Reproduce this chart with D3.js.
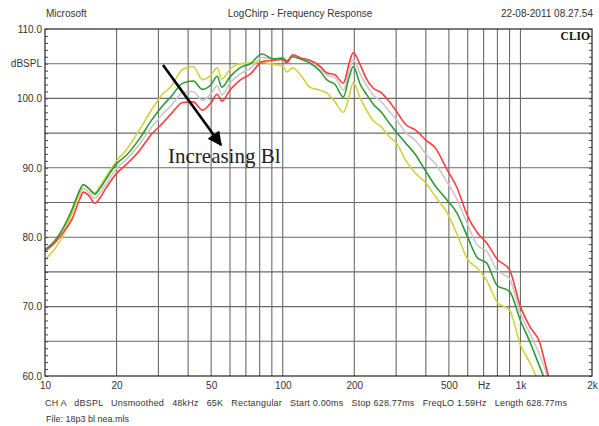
<!DOCTYPE html>
<html>
<head>
<meta charset="utf-8">
<script src="https://cdn.jsdelivr.net/npm/d3@7"></script>
<style>
  body { margin: 0; background: #fff; }
  svg { display: block; }
  .hdr, .tick text, .info { font-family: Arial, "Liberation Sans", sans-serif; fill: #333; }
</style>
</head>
<body>
<div id="chart"></div>
<script>
// frequencies (Hz) shared by every trace
const freqs = [10, 11, 12, 13, 14, 14.5, 15.3, 16.2, 17, 18, 20, 22, 25, 28, 31, 34, 38, 42, 46, 50,
  53, 55.5, 60, 66, 73, 82, 91, 100, 104, 110, 120, 130, 143, 153, 166, 180, 190, 198, 212, 226,
  240, 260, 280, 300, 330, 360, 400, 440, 490, 540, 600, 660, 720, 800, 900, 1000, 1100, 1200, 1300, 1400];

// dBSPL per trace, lowest Bl (yellow) to highest Bl (red)
const yellow = [76.8, 78.3, 80.5, 83.5, 86.5, 87.5, 87.0, 86.4, 87.3, 88.6, 91.0, 92.6, 95.5, 98.3, 100.5, 101.8, 104.2, 104.6, 102.7, 103.4,
  104.4, 102.8, 104.2, 105.0, 105.1, 105.2, 104.9, 104.7, 103.8, 104.4, 103.2, 101.6, 101.2, 100.8, 99.5, 98.0, 100.2, 102.3, 100.0, 98.2,
  96.8, 95.9, 94.5, 93.6, 91.0, 89.3, 87.8, 85.8, 83.6, 80.5, 76.8, 75.5, 73.8, 70.6, 69.5, 64.5, 61.8, 59.0, 57.0, 55.0];
const green = [78.2, 79.5, 81.5, 84.0, 86.8, 87.6, 87.0, 86.2, 87.0, 88.3, 90.6, 91.8, 94.2, 96.8, 98.8, 100.3, 102.2, 102.5, 101.3, 102.0,
  103.2, 101.6, 103.1, 104.4, 105.0, 106.4, 105.7, 105.8, 105.4, 106.0, 105.6, 105.1, 104.0, 102.7, 102.0, 100.2, 103.0, 104.6, 102.0, 100.5,
  99.2, 98.0, 96.5, 95.2, 93.5, 92.0, 89.5, 87.3, 85.4, 83.5, 80.0, 77.0, 76.3, 73.0, 72.2, 68.0, 64.8, 61.5, 58.5, 56.0];
const gray = [78.0, 79.3, 81.2, 83.5, 86.2, 87.0, 86.5, 85.6, 86.3, 87.6, 89.9, 91.2, 93.4, 95.8, 97.6, 99.0, 100.8, 101.0, 99.7, 100.7,
  101.8, 100.5, 102.2, 103.5, 104.3, 105.9, 105.7, 105.8, 105.3, 106.2, 105.8, 105.4, 104.5, 103.4, 103.0, 101.2, 104.0, 105.6, 103.5, 101.8,
  100.5, 99.5, 98.2, 97.0, 95.0, 94.0, 92.0, 90.5, 88.0, 85.5, 81.8, 78.8, 78.0, 75.2, 74.0, 69.0, 66.0, 63.2, 60.0, 57.0];
const red = [78.0, 79.2, 80.8, 82.6, 85.5, 86.5, 86.0, 84.9, 85.6, 87.0, 89.2, 90.5, 92.5, 94.8, 96.3, 97.8, 99.4, 99.5, 98.3, 99.4,
  100.6, 99.6, 101.2, 102.6, 103.5, 105.3, 105.5, 105.6, 105.1, 106.3, 105.8, 105.5, 104.7, 103.7, 103.4, 102.2, 105.0, 106.6, 104.8, 102.7,
  101.5, 100.8, 99.6, 98.2, 96.2, 95.5, 94.0, 92.8, 89.8, 87.2, 83.0, 80.6, 79.2, 76.8, 75.3, 70.0, 67.0, 65.0, 60.5, 57.0];

const xTicks = [10, 20, 50, 100, 200, 500, 700, 1000, 2000];
const xTickLabels = ['10', '20', '50', '100', '200', '500', 'Hz', '1k', '2k'];
const yTicks = [60, 70, 80, 90, 100, 105, 110];
const yTickLabels = ['60.0', '70.0', '80.0', '90.0', '100.0', 'dBSPL', '110.0'];

const W = 599, H = 426;
const margin = { top: 29, right: 7, bottom: 50, left: 45 };
const width = W - margin.left - margin.right;
const height = H - margin.top - margin.bottom;

const svg = d3.select('#chart').append('svg').attr('width', W).attr('height', H);

const x = d3.scaleLog().domain([10, 2000]).range([0, width]);
const y = d3.scaleLinear().domain([60, 110]).range([height, 0]);

const g = svg.append('g').attr('transform', `translate(${margin.left},${margin.top})`);

// vertical grid: every 1-2-3..9 step per decade
const gridX = [];
[10, 100, 1000].forEach(d => { for (let k = 1; k <= 9; k++) if (d * k <= 2000) gridX.push(d * k); });
g.append('g').selectAll('line').data(gridX.filter(v => v > 10 && v < 2000)).join('line')
  .attr('x1', d => x(d)).attr('x2', d => x(d)).attr('y1', 0).attr('y2', height)
  .attr('stroke', '#6a6a6a').attr('stroke-width', 1.1);

g.append('g').selectAll('line').data(d3.range(65, 110, 5)).join('line')
  .attr('x1', 0).attr('x2', width).attr('y1', d => y(d)).attr('y2', d => y(d))
  .attr('stroke', '#6a6a6a').attr('stroke-width', 1.1);

// traces
const clip = svg.append('clipPath').attr('id', 'plotclip');
clip.append('rect').attr('width', width).attr('height', height);

const line = d3.line().x((d, i) => x(freqs[i])).y(d => y(d)).curve(d3.curveMonotoneX);
const traces = [
  { vals: gray, color: '#c9c9c9' },
  { vals: yellow, color: '#d2d23c' },
  { vals: green, color: '#2f9a34' },
  { vals: red, color: '#ff3c3c' }
];
g.append('g').attr('clip-path', 'url(#plotclip)').selectAll('path').data(traces).join('path')
  .attr('d', d => line(d.vals))
  .attr('fill', 'none').attr('stroke', d => d.color).attr('stroke-width', 1.6);

// frame
g.append('rect').attr('width', width).attr('height', height)
  .attr('fill', 'none').attr('stroke', '#222').attr('stroke-width', 1.2);

// minor dB ticks on left and right edges
const minor = d3.range(60, 111, 1);
g.append('g').call(d3.axisLeft(y).tickValues(minor).tickSize(-3).tickFormat(''))
  .call(a => a.select('.domain').remove())
  .selectAll('line').attr('stroke', '#444');
g.append('g').attr('transform', `translate(${width},0)`)
  .call(d3.axisRight(y).tickValues(minor).tickSize(-3).tickFormat(''))
  .call(a => a.select('.domain').remove())
  .selectAll('line').attr('stroke', '#444');

// axis labels
g.append('g').call(d3.axisLeft(y).tickValues(yTicks).tickSize(0).tickPadding(3)
    .tickFormat(d => yTickLabels[yTicks.indexOf(d)]))
  .call(a => a.select('.domain').remove())
  .selectAll('text').attr('font-size', 10);

g.append('g').attr('transform', `translate(0,${height})`)
  .call(d3.axisBottom(x).tickValues(xTicks).tickSize(0).tickPadding(6)
    .tickFormat(d => xTickLabels[xTicks.indexOf(d)]))
  .call(a => a.select('.domain').remove())
  .selectAll('text').attr('font-size', 10);

// header
svg.append('text').attr('class', 'hdr').attr('x', 46).attr('y', 17).attr('font-size', 10).text('Microsoft');
svg.append('text').attr('class', 'hdr').attr('x', 300).attr('y', 17).attr('font-size', 10)
  .attr('text-anchor', 'middle').text('LogChirp - Frequency Response');
svg.append('text').attr('class', 'hdr').attr('x', 593).attr('y', 17).attr('font-size', 10)
  .attr('text-anchor', 'end').text('22-08-2011 08.27.54');
svg.append('text').attr('x', 590).attr('y', 40).attr('text-anchor', 'end')
  .attr('font-family', '"Liberation Serif", serif').attr('font-weight', 'bold').attr('font-size', 11.5)
  .attr('fill', '#111').text('CLIO');

// footer
svg.append('text').attr('class', 'info').attr('x', 45).attr('y', 406).attr('font-size', 9)
  .attr('xml:space', 'preserve').attr('textLength', 522).attr('lengthAdjust', 'spacing')
  .text('CH A   dBSPL   Unsmoothed   48kHz   65K   Rectangular   Start 0.00ms   Stop 628.77ms   FreqLO 1.59Hz   Length 628.77ms');
svg.append('text').attr('class', 'info').attr('x', 46).attr('y', 422).attr('font-size', 9)
  .text('File: 18p3 bl nea.mls');

// annotation
svg.append('defs').append('marker').attr('id', 'arrow')
  .attr('viewBox', '0 0 10 10').attr('refX', 9).attr('refY', 5)
  .attr('markerWidth', 6).attr('markerHeight', 5.5).attr('orient', 'auto')
  .append('path').attr('d', 'M0,0 L10,5 L0,10 Z').attr('fill', '#000');
svg.append('line').attr('x1', 163).attr('y1', 65).attr('x2', 221).attr('y2', 145)
  .attr('stroke', '#000').attr('stroke-width', 2.6).attr('marker-end', 'url(#arrow)');
svg.append('text').attr('x', 168).attr('y', 163)
  .attr('font-family', '"Liberation Serif", "Times New Roman", serif').attr('font-size', 21)
  .attr('fill', '#222').text('Increasing Bl');
</script>
</body>
</html>
